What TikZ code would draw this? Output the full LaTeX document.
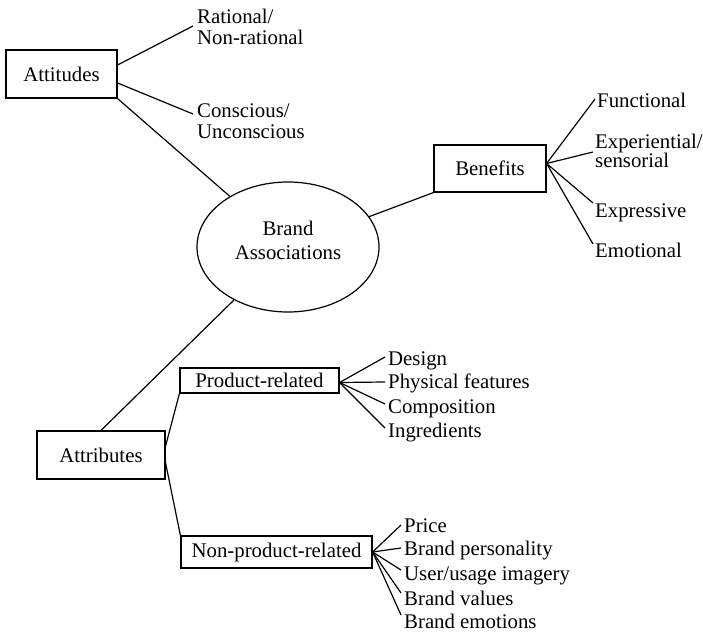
\documentclass[tikz,border=0pt]{standalone}
\usepackage{fontspec}
\setmainfont{Liberation Serif}
\usetikzlibrary{shapes.geometric,calc}
\begin{document}
\begin{tikzpicture}[x=1pt,y=-1pt,
  every node/.style={font=\fontsize{20.8}{21}\selectfont},
  box/.style={draw,line width=1.2pt,inner sep=0pt,align=center},
  leaf/.style={anchor=base west,inner sep=0pt,align=left},
  link/.style={line width=1.2pt}]
\useasboundingbox (0,0) rectangle (703,634);

% central concept
\node[draw,ellipse,line width=1.2pt,minimum width=182pt,minimum height=130pt,
      inner sep=0pt,align=center,text depth=14pt,
      font=\fontsize{20.8}{24}\selectfont] (ba) at (288,247) {Brand\\Associations};

% boxed categories
\node[box,minimum width=111pt,minimum height=48pt] (att) at (61.5,74) {Attitudes};
\node[box,minimum width=112pt,minimum height=47pt] (ben) at (490,168.5) {Benefits};
\node[box,minimum width=128pt,minimum height=48pt] (atr) at (101,455) {Attributes};
\node[box,minimum width=159pt,minimum height=25pt] (pr) at (259.5,380.5) {Product-related};
\node[box,minimum width=191pt,minimum height=32pt] (npr) at (276.5,552) {Non-product-related};

% attitude types (base = baseline of the last line)
\node[leaf] (rat) at (197,45) {Rational/\\Non-rational};
\node[leaf] (con) at (197,138) {Conscious/\\Unconscious};

% benefit types
\node[leaf] (fun) at (597,107) {Functional};
\node[leaf,font=\fontsize{20.8}{19}\selectfont] (exp) at (595,167) {Experiential/\\sensorial};
\node[leaf] (exs) at (595,217) {Expressive};
\node[leaf] (emo) at (595,257) {Emotional};

% product-related attributes
\node[leaf] (d1) at (388,365) {Design};
\node[leaf] (d2) at (388,388) {Physical features};
\node[leaf] (d3) at (388,413) {Composition};
\node[leaf] (d4) at (388,437) {Ingredients};

% non-product-related attributes
\node[leaf] (n1) at (404,532) {Price};
\node[leaf] (n2) at (404,555) {Brand personality};
\node[leaf] (n3) at (404,580) {User/usage imagery};
\node[leaf] (n4) at (404,605) {Brand values};
\node[leaf] (n5) at (404,628) {Brand emotions};

% main branches
\draw[link] (att.south east) -- (ba);
\draw[link] (ba) -- (ben.south west);
\draw[link] (ba) -- (atr.north);
\draw[link] ([yshift=9pt]atr.east) -- (pr.south west);
\draw[link] ([yshift=-8pt]atr.east) -- (npr.north west);

% attitude fan
\draw[link] ([yshift=9pt]att.east) -- ($(rat.base west)+(-4,-19)$);
\draw[link] ([yshift=-9pt]att.east) -- ($(con.base west)+(-4,-24)$);

% benefit fan
\draw[link] ([yshift=5pt]ben.east) -- ($(fun.base west)+(-2,-8)$);
\draw[link] ([yshift=5pt]ben.east) -- ($(exp.base west)+(-2,-15)$);
\draw[link] ([yshift=5pt]ben.east) -- ($(exs.base west)+(-2,-14)$);
\draw[link] ([yshift=5pt]ben.east) -- ($(emo.base west)+(-2,-13)$);

% product-related fan
\draw[link] ([yshift=-2pt]pr.east) -- ($(d1.base west)+(-3,-8)$);
\draw[link] ([yshift=-2pt]pr.east) -- ($(d2.base west)+(-3,-6)$);
\draw[link] ([yshift=-2pt]pr.east) -- ($(d3.base west)+(-3,-9)$);
\draw[link] ([yshift=-2pt]pr.east) -- ($(d4.base west)+(-3,-9)$);

% non-product-related fan
\draw[link] (npr.east) -- ($(n1.base west)+(-3,-7)$);
\draw[link] (npr.east) -- ($(n2.base west)+(-3,-7)$);
\draw[link] (npr.east) -- ($(n3.base west)+(-3,-10)$);
\draw[link] (npr.east) -- ($(n4.base west)+(-3,-12)$);
\draw[link] (npr.east) -- ($(n5.base west)+(-3,-13)$);
\end{tikzpicture}
\end{document}
